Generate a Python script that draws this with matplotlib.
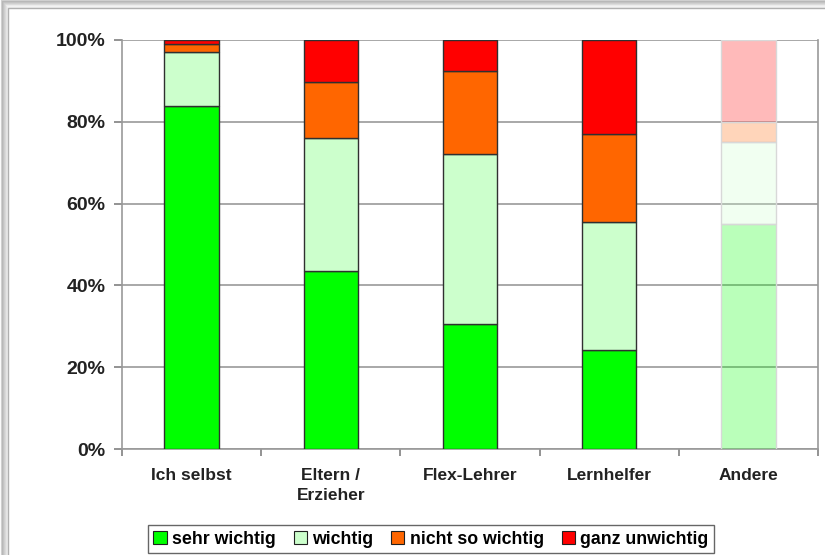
import matplotlib
matplotlib.use("Agg")
import matplotlib.pyplot as plt
from matplotlib.patches import Rectangle
from matplotlib.colors import to_rgba
import numpy as np

categories = ["Ich selbst", "Eltern /\nErzieher", "Flex-Lehrer", "Lernhelfer", "Andere"]
series_names = ["sehr wichtig", "wichtig", "nicht so wichtig", "ganz unwichtig"]
sehr_wichtig = [83.9, 43.5, 30.6, 24.2, 55.0]
wichtig = [13.2, 32.5, 41.5, 31.3, 20.0]
nicht_so_wichtig = [1.9, 13.7, 20.3, 21.5, 5.0]
ganz_unwichtig = [1.0, 10.3, 7.6, 23.0, 20.0]
y_ticks = [0, 20, 40, 60, 80, 100]

colors = ["#00FF00", "#CCFFCC", "#FF6600", "#FF0000"]
faded_alpha = 0.27  # last category drawn in washed-out tones

plt.rcParams["font.family"] = ["Liberation Sans", "DejaVu Sans"]
fig = plt.figure(figsize=(8.25, 5.55), dpi=100)

# soft frame around the chart (left/top shadow)
for i, a in enumerate([0.04, 0.07, 0.10, 0.14, 0.19, 0.25, 0.32]):
    off = (7.5 - i) / 825
    offy = (7.5 - i) / 555
    fig.patches.append(Rectangle((off, -0.1), 1.2, 1.1 - offy, transform=fig.transFigure,
                                 facecolor="none", edgecolor=(0.45, 0.45, 0.45, a),
                                 linewidth=1.6, zorder=-2))
fig.patches.append(Rectangle((8 / 825, -0.1), 1.2, 1.1 - 8 / 555, transform=fig.transFigure,
                             facecolor="white", edgecolor="#b0b0b0", linewidth=1.0, zorder=-1))

ax = fig.add_axes([122 / 825, 1 - 449 / 555, (818 - 122) / 825, (449 - 40) / 555])
ax.set_zorder(2)
ax.set_facecolor("white")

x = np.arange(len(categories))
data = [sehr_wichtig, wichtig, nicht_so_wichtig, ganz_unwichtig]
bottom = np.zeros(len(categories))
for name, vals, col in zip(series_names, data, colors):
    vals = np.array(vals)
    fcs = [col] * (len(categories) - 1) + [to_rgba(col, faded_alpha)]
    ecs = ["#303030"] * (len(categories) - 1) + ["#d8d8d8"]
    ax.bar(x, vals, width=0.39, bottom=bottom, color=fcs, edgecolor=ecs,
           linewidth=1.0, label=name, zorder=3)
    bottom += vals

ax.set_xlim(-0.5, len(categories) - 0.5)
ax.set_ylim(0, 100)
ax.set_yticks(y_ticks)
ax.set_yticklabels([f"{v}%" for v in y_ticks], fontsize=14, fontweight="bold", color="#222222")
ax.yaxis.grid(True, color="#999999", linewidth=1.2, zorder=1)
ax.set_axisbelow(True)

# category labels centered, tick marks between categories
ax.set_xticks(x)
ax.set_xticklabels(categories, fontsize=12.5, fontweight="bold", color="#222222", linespacing=1.4)
ax.tick_params(axis="x", length=0, pad=14)
ax.set_xticks(np.arange(len(categories) + 1) - 0.5, minor=True)
ax.tick_params(axis="x", which="minor", length=5, color="#808080", width=1.2)
ax.tick_params(axis="y", length=6, color="#808080", width=1.2, pad=6)

for side in ["left", "bottom", "right", "top"]:
    ax.spines[side].set_color("#999999")
    ax.spines[side].set_linewidth(1.2)
ax.spines["top"].set_visible(False)

handles = [Rectangle((0, 0), 1, 1, facecolor=c, edgecolor="#202020", linewidth=0.8) for c in colors]
leg = fig.legend(handles, series_names, loc="center", bbox_to_anchor=(431 / 825, 1 - 539 / 555),
                 ncol=4, frameon=True, fancybox=False, edgecolor="#404040",
                 prop={"size": 12.8, "weight": "bold"}, handlelength=0.75, handleheight=0.75,
                 handletextpad=0.3, columnspacing=1.0, borderpad=0.3, borderaxespad=0)
leg.get_frame().set_linewidth(1.0)

fig.savefig("out.png", dpi=100)
